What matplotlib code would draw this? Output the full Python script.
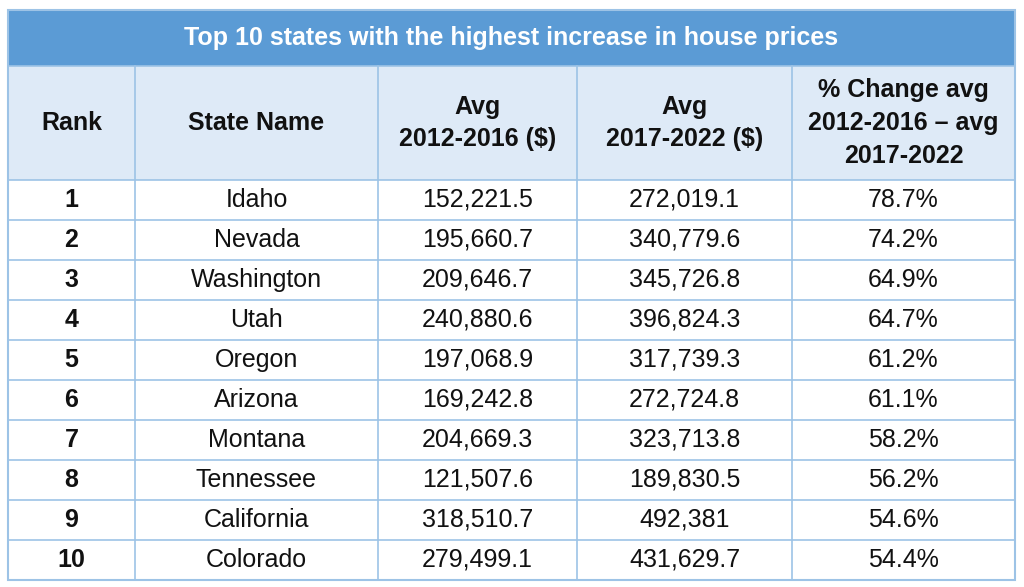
import matplotlib
matplotlib.use("Agg")
import matplotlib.pyplot as plt
from matplotlib.patches import Rectangle

title = "Top 10 states with the highest increase in house prices"
headers = ["Rank", "State Name", "Avg\n2012-2016 ($)", "Avg\n2017-2022 ($)", "% Change avg\n2012-2016 – avg\n2017-2022"]
ranks = ["1", "2", "3", "4", "5", "6", "7", "8", "9", "10"]
states = ["Idaho", "Nevada", "Washington", "Utah", "Oregon", "Arizona", "Montana", "Tennessee", "California", "Colorado"]
avg_2012_2016 = ["152,221.5", "195,660.7", "209,646.7", "240,880.6", "197,068.9", "169,242.8", "204,669.3", "121,507.6", "318,510.7", "279,499.1"]
avg_2017_2022 = ["272,019.1", "340,779.6", "345,726.8", "396,824.3", "317,739.3", "272,724.8", "323,713.8", "189,830.5", "492,381", "431,629.7"]
pct_change = ["78.7%", "74.2%", "64.9%", "64.7%", "61.2%", "61.1%", "58.2%", "56.2%", "54.6%", "54.4%"]

plt.rcParams['font.family'] = ['Liberation Sans', 'DejaVu Sans']
W, H = 1024, 587
fig = plt.figure(figsize=(W/100, H/100), dpi=100)
ax = fig.add_axes([0, 0, 1, 1])
ax.set_xlim(0, W); ax.set_ylim(H, 0); ax.axis('off')

cols = [8, 135, 378, 577, 792, 1015]
y_title, y_head, y_data, row_h = 10, 66, 180, 40
y_end = y_data + row_h * len(ranks)
border = "#9DC3E6"

ax.add_patch(Rectangle((cols[0], y_title), cols[-1]-cols[0], y_head-y_title, fc="#5B9BD5", ec="none"))
ax.text((cols[0]+cols[-1])/2, (y_title+y_head)/2, title, color="white", fontsize=18,
        fontweight="bold", ha="center", va="center")
ax.add_patch(Rectangle((cols[0], y_head), cols[-1]-cols[0], y_data-y_head, fc="#DEEAF7", ec="none"))
for i, h in enumerate(headers):
    ax.text((cols[i]+cols[i+1])/2, (y_head+y_data)/2, h, fontsize=18, fontweight="bold",
            ha="center", va="center", linespacing=1.45, color="#111111")

columns = [ranks, states, avg_2012_2016, avg_2017_2022, pct_change]
for r in range(len(ranks)):
    yc = y_data + row_h * (r + 0.5)
    for c, vals in enumerate(columns):
        ax.text((cols[c]+cols[c+1])/2, yc, vals[r], fontsize=18, ha="center", va="center",
                fontweight="bold" if c == 0 else "normal", color="#111111")

for x in cols:
    ax.plot([x, x], [y_head, y_end], color=border, lw=1.2)
for k in range(len(ranks) + 1):
    y = y_data + row_h * k
    ax.plot([cols[0], cols[-1]], [y, y], color=border, lw=1.2)
ax.plot([cols[0], cols[-1]], [y_head, y_head], color=border, lw=1.2)
ax.add_patch(Rectangle((cols[0], y_title), cols[-1]-cols[0], y_end-y_title, fc="none", ec=border, lw=1.5))

fig.savefig("out.png", dpi=100)
